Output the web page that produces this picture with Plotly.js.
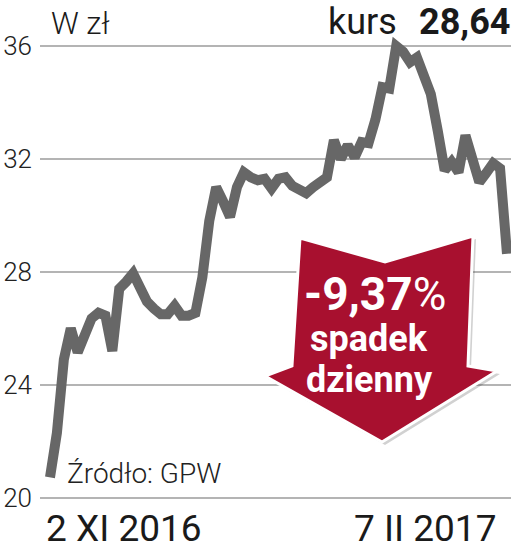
<!DOCTYPE html>
<html>
<head>
<meta charset="utf-8">
<script src="https://cdn.plot.ly/plotly-3.0.1.min.js"></script>
<style>html,body{margin:0;padding:0;background:#fff;}#chart{width:513px;height:549px;}</style>
</head>
<body>
<div id="chart"></div>
<script>
// Trading-day index from 2 XI 2016 to 7 II 2017
const prices = [20.72, 22.3, 24.9, 26.0, 25.15, 25.8, 26.35, 26.55, 26.45, 25.2,
  27.4, 27.65, 27.95, 27.45, 26.95, 26.7, 26.5, 26.5, 26.8, 26.45,
  26.45, 26.55, 27.8, 29.8, 31.0, 30.5, 29.95, 31.0, 31.53, 31.35,
  31.25, 31.3, 30.96, 31.3, 31.35, 31.05, 30.9, 30.79, 31.0, 31.15,
  31.35, 32.67, 32.0, 32.49, 32.06, 32.6, 32.56, 33.4, 34.55, 34.5,
  36.0, 35.8, 35.43, 35.6, 34.9, 34.3, 33.0, 31.6, 31.9, 31.53,
  32.84, 32.0, 31.18, 31.5, 31.85, 31.67, 28.64];
const dayIndex = prices.map((_, i) => i);
const yTicks = [20, 24, 28, 32, 36];
const yTickLabels = ["20", "24", "28", "32", "36"];
const startLabel = "2 XI 2016";
const endLabel = "7 II 2017";
const unitLabel = "W zł";
const kursLabel = "kurs";
const lastValueLabel = "28,64";
const changeLabel = "-9,37";
const changeLine2 = "spadek";
const changeLine3 = "dzienny";
const sourceLabel = "Źródło: GPW";

const W = 513, H = 549, ML = 40, MR = 2, MT = 32, MB = 40;
const PW = W - ML - MR, PH = H - MT - MB;
const px = x => (x - ML) / PW;
const py = y => (H - MB - y) / PH;
function pathOf(pts) {
  return pts.map((p, i) => (i ? 'L' : 'M') + px(p[0]).toFixed(4) + ',' + py(p[1]).toFixed(4)).join(' ') + ' Z';
}
const arrowPts = [[300,238],[385,262],[473,236],[468,366],[497,371],[382,442],[265,376],[292,366]];
const shadowPts = arrowPts.map(p => [p[0] + 3, p[1] + 3]);

const FONT = "Roboto, 'DejaVu Sans', sans-serif";

const trace = {
  x: dayIndex, y: prices, type: 'scatter', mode: 'lines',
  line: {color: '#676767', width: 10, shape: 'linear'},
  hoverinfo: 'skip', cliponaxis: false
};

function ann(text, x, y, xa, ya, size, weight, color) {
  return {text: text, xref: 'paper', yref: 'paper', x: px(x), y: py(y), xanchor: xa, yanchor: ya,
    showarrow: false, font: {family: FONT, size: size, weight: weight, color: color || '#1a1a1a'}};
}

const layout = {
  width: W, height: H,
  margin: {l: ML, r: MR, t: MT, b: MB, pad: 0},
  paper_bgcolor: '#ffffff', plot_bgcolor: '#ffffff',
  showlegend: false,
  xaxis: {range: [-1.444, 66.58], showgrid: false, zeroline: false, showticklabels: false, ticks: '', showline: false, fixedrange: true},
  yaxis: {range: [19.6, 36.5], tickvals: yTicks, ticktext: yTickLabels, showgrid: true, gridcolor: '#b4b4b4', gridwidth: 2,
    zeroline: false, showline: false, ticks: '', ticklabelstandoff: 7,
    tickfont: {family: FONT, size: 26, weight: 300, color: '#222'}, fixedrange: true},
  shapes: [
    {type: 'path', xref: 'paper', yref: 'paper', path: pathOf(shadowPts), fillcolor: 'rgba(0,0,0,0.18)', line: {width: 0}, layer: 'above'},
    {type: 'path', xref: 'paper', yref: 'paper', path: pathOf(arrowPts), fillcolor: '#a8102f', line: {color: '#ffffff', width: 3}, layer: 'above'}
  ],
  annotations: [
    ann(unitLabel, 49, 24, 'left', 'middle', 31, 300),
    ann(kursLabel, 399, 22, 'right', 'middle', 36, 400),
    ann(lastValueLabel, 512, 22, 'right', 'middle', 36, 700),
    ann(startLabel, 44, 528, 'left', 'middle', 37, 400),
    ann(endLabel, 498, 528, 'right', 'middle', 37, 400),
    ann(sourceLabel, 65, 473, 'left', 'middle', 28, 300, '#222'),
    ann(changeLabel + '<span style="font-weight:400">%</span>', 375, 294, 'center', 'middle', 46, 700, '#ffffff'),
    ann(changeLine2, 369, 339, 'center', 'middle', 36, 700, '#ffffff'),
    ann(changeLine3, 369, 380, 'center', 'middle', 36, 700, '#ffffff')
  ]
};

Plotly.newPlot('chart', [trace], layout, {staticPlot: true, displayModeBar: false});
</script>
</body>
</html>
